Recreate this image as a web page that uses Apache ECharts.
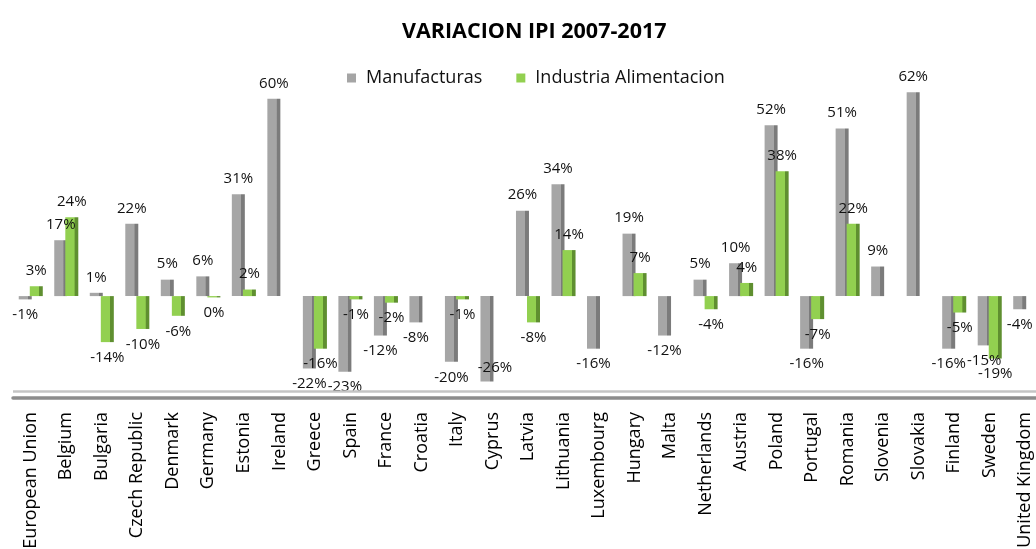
<!DOCTYPE html>
<html>
<head>
<meta charset="utf-8">
<script src="https://cdn.jsdelivr.net/npm/echarts@6/dist/echarts.min.js"></script>
<style>
  html, body { margin: 0; padding: 0; background: #fff; }
  #chart { width: 1036px; height: 549px; }
</style>
</head>
<body>
<div id="chart"></div>
<script>
const categories = ['European Union', 'Belgium', 'Bulgaria', 'Czech Republic', 'Denmark', 'Germany', 'Estonia',
  'Ireland', 'Greece', 'Spain', 'France', 'Croatia', 'Italy', 'Cyprus', 'Latvia', 'Lithuania', 'Luxembourg',
  'Hungary', 'Malta', 'Netherlands', 'Austria', 'Poland', 'Portugal', 'Romania', 'Slovenia', 'Slovakia',
  'Finland', 'Sweden', 'United Kingdom']
const manufacturas = [-1, 17, 1, 22, 5, 6, 31, 60, -22, -23, -12, -8, -20, -26, 26, 34, -16, 19, -12, 5, 10,
  52, -16, 51, 9, 62, -16, -15, -4]
const alimentacion = [3, 24, -14, -10, -6, -0.4, 2, null, -16, -1, -2, null, -1, null, -8, 14, null, 7, null,
  -4, 4, 38, -7, 22, null, null, -5, -19, null]
const seriesNames = ['Manufacturas', 'Industria Alimentacion']

const FONT = 'Open Sans'

// front face + darker right side, fake 3d look like the excel original
function barColor (front, side) {
  return new echarts.graphic.LinearGradient(0, 0, 1, 0, [
    { offset: 0, color: front },
    { offset: 0.7, color: front },
    { offset: 0.72, color: side },
    { offset: 1, color: side }
  ])
}

function toData (vals) {
  return vals.map(v => {
    if (v == null) return '-'
    var label = { position: v < 0 ? 'bottom' : 'top' }
    // no room above the floor: excel puts it over the bar end
    if (v < -24) label = { position: 'insideBottom', offset: [8, 2] }
    return { value: v, label: label }
  })
}

var chart = echarts.init(document.getElementById('chart'))
var labelStyle = {
  show: true,
  distance: 8,
  color: '#111',
  fontFamily: FONT,
  fontSize: 15,
  formatter: function (p) {
    return Math.round(p.value) + '%'
  }
}

var option = {
  animation: false,
  title: {
    text: 'VARIACION IPI 2007-2017',
    left: 397,
    top: 16,
    textStyle: { fontFamily: FONT, fontSize: 21.5, fontWeight: 'bold', color: '#000' }
  },
  legend: {
    top: 64,
    left: 342,
    itemWidth: 9,
    itemHeight: 9,
    itemGap: 34,
    icon: 'rect',
    textStyle: { fontFamily: FONT, fontSize: 18, color: '#111', padding: [0, 0, 0, 5] },
    data: [
      { name: seriesNames[0], itemStyle: { color: '#a5a5a5' } },
      { name: seriesNames[1], itemStyle: { color: '#92d050' } }
    ]
  },
  grid: {
    left: 13,
    right: -7,
    top: 66,
    bottom: 151,
    containLabel: false,
    outerBoundsMode: 'none'
  },
  xAxis: {
    type: 'category',
    data: categories,
    position: 'bottom',
    axisLine: { onZero: false, lineStyle: { color: '#8c8c8c', width: 3.5 } },
    axisTick: { show: false },
    axisLabel: {
      rotate: 90,
      interval: 0,
      margin: 14,
      // bars sit a bit right of the label in the 3d original
      padding: [0, 0, 6, 0],
      color: '#000',
      fontFamily: FONT,
      fontSize: 18
    }
  },
  yAxis: {
    type: 'value',
    min: -31,
    max: 70,
    show: false,
    splitLine: { show: false }
  },
  series: [
    {
      name: seriesNames[0],
      type: 'bar',
      barWidth: 13,
      barGap: '-15%',
      itemStyle: { color: barColor('#a6a6a6', '#7b7b7b') },
      label: labelStyle,
      data: toData(manufacturas),
      markLine: {
        silent: true,
        symbol: 'none',
        label: { show: false },
        lineStyle: { color: '#c4c4c4', width: 2.5, type: 'solid' },
        data: [{ yAxis: -28.9 }]
      }
    },
    {
      name: seriesNames[1],
      type: 'bar',
      barWidth: 13,
      itemStyle: { color: barColor('#92d050', '#5f8f30') },
      label: labelStyle,
      data: toData(alimentacion)
    }
  ]
}
chart.setOption(option)
</script>
</body>
</html>
